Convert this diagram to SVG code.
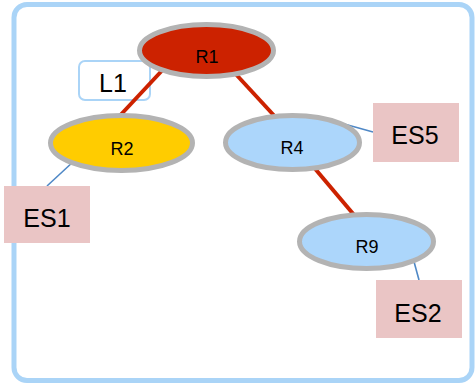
<svg xmlns="http://www.w3.org/2000/svg" width="475" height="385" viewBox="0 0 475 385">
<style>
.node{stroke:#b3b3b3;stroke-width:5}
.lbl{font-family:"Liberation Sans",Arial,sans-serif;font-size:18px;fill:#000;text-anchor:middle}
.big{font-family:"Liberation Sans",Arial,sans-serif;font-size:25px;fill:#000;text-anchor:middle}
.es{fill:#eac5c5}
.red{stroke:#cc2200;stroke-width:4;fill:none}
.blue{stroke:#4f88c6;stroke-width:1.6;fill:none}
</style>
<rect x="14" y="4.5" width="458" height="376" rx="13" fill="#fff" stroke="#aad4f7" stroke-width="5"/>
<g id="L1">
<rect x="79" y="61" width="71" height="39" rx="6" fill="#fff" stroke="#aad4f7" stroke-width="2"/>
<text class="big" x="113" y="92">L1</text>
</g>
<g id="connectors">
<line class="red" x1="170" y1="62" x2="114" y2="122"/>
<line class="red" x1="232" y1="70" x2="280" y2="122"/>
<line class="red" x1="306" y1="158" x2="360" y2="222"/>
<line class="blue" x1="74" y1="161" x2="47" y2="186"/>
<line class="blue" x1="337" y1="122" x2="373" y2="132"/>
<line class="blue" x1="413" y1="258" x2="419" y2="280"/>
</g>
<g id="R1">
<ellipse class="node" cx="206.5" cy="50.5" rx="67" ry="26" fill="#cc2200"/>
<text class="lbl" x="207" y="63">R1</text>
</g>
<g id="R2">
<ellipse class="node" cx="121.5" cy="143" rx="71" ry="27.5" fill="#ffcc00"/>
<text class="lbl" x="122" y="155">R2</text>
</g>
<g id="R4">
<ellipse class="node" cx="292.5" cy="142.5" rx="67" ry="27" fill="#acd6fb"/>
<text class="lbl" x="292" y="154">R4</text>
</g>
<g id="R9">
<ellipse class="node" cx="366.5" cy="241.5" rx="67" ry="27" fill="#acd6fb"/>
<text class="lbl" x="367" y="253">R9</text>
</g>
<g id="ES1">
<rect class="es" x="4" y="186" width="86" height="57"/>
<text class="big" x="47" y="227">ES1</text>
</g>
<g id="ES5">
<rect class="es" x="373" y="103" width="86" height="59"/>
<text class="big" x="415" y="144">ES5</text>
</g>
<g id="ES2">
<rect class="es" x="376" y="280" width="86" height="58"/>
<text class="big" x="418" y="322">ES2</text>
</g>
</svg>
